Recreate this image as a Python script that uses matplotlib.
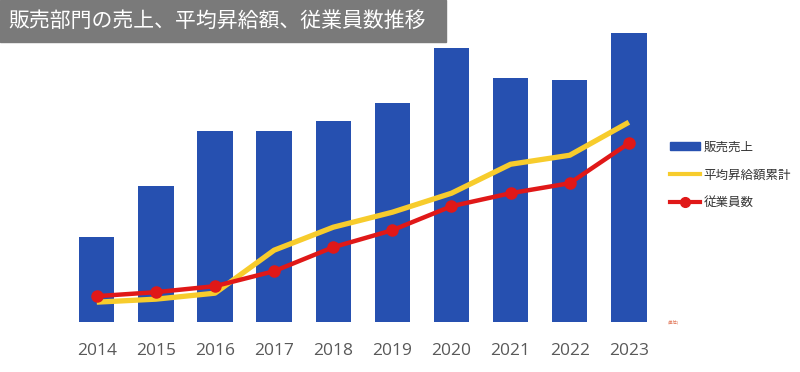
import matplotlib
matplotlib.use("Agg")
import matplotlib.pyplot as plt
from matplotlib.patches import Rectangle
from matplotlib.lines import Line2D

plt.rcParams['font.family'] = ['Noto Sans CJK JP', 'DejaVu Sans']

# データ(画像から読み取った概算値)
years = ['2014', '2015', '2016', '2017', '2018', '2019', '2020', '2021', '2022', '2023']
sales = [85, 136, 191, 191, 201, 219, 274, 244, 242, 289]
raise_total = [20, 23, 29, 72, 95, 110, 129, 158, 167, 200]
employees = [26, 30, 36, 51, 75, 92, 116, 129, 139, 179]

blue = '#2650b0'
yellow = '#f7cc2c'
red = '#e01818'

fig = plt.figure(figsize=(8, 3.72), dpi=100)
ax = fig.add_axes([0.084, 0.134, 0.739, 0.806])

x = list(range(len(years)))
ax.bar(x, sales, width=0.6, color=blue, zorder=1)
ax.plot(x, raise_total, color=yellow, linewidth=3.8, solid_capstyle='butt', zorder=2)
ax.plot(x, employees, color=red, linewidth=3.2, marker='o', markersize=8, zorder=3)

ax.set_xlim(-0.5, len(years) - 0.5)
ax.set_ylim(0, 300)
ax.set_xticks(x)
ax.set_xticklabels(years, fontsize=12.5, color='#595959', family=['Open Sans', 'DejaVu Sans'])
ax.tick_params(axis='x', length=0, pad=15)
ax.set_yticks([])
for s in ax.spines.values():
    s.set_visible(False)

# タイトル帯
fig.patches.append(Rectangle((0, 1 - 42 / 372), 446 / 800, 42 / 372,
                             transform=fig.transFigure, color='#7a7a7a', zorder=0))
fig.text(8 / 800, 1 - 21 / 372, '販売部門の売上、平均昇給額、従業員数推移',
         color='white', fontsize=15, va='center', ha='left')

# 凡例
handles = [
    Rectangle((0, 0), 1, 1, color=blue),
    Line2D([], [], color=yellow, linewidth=3),
    Line2D([], [], color=red, linewidth=3, marker='o', markersize=7),
]
labels = ['販売売上', '平均昇給額累計', '従業員数']
fig.legend(handles, labels, loc='center left', bbox_to_anchor=(0.823, 0.53),
           frameon=False, fontsize=9, handlelength=2.4, handletextpad=0.3,
           labelspacing=1.2, labelcolor='#333333')

fig.text(668 / 800, 1 - 322 / 372, '(単位)', color='#e07050', fontsize=3,
         ha='left', va='center')

fig.savefig('out.png', dpi=100)
